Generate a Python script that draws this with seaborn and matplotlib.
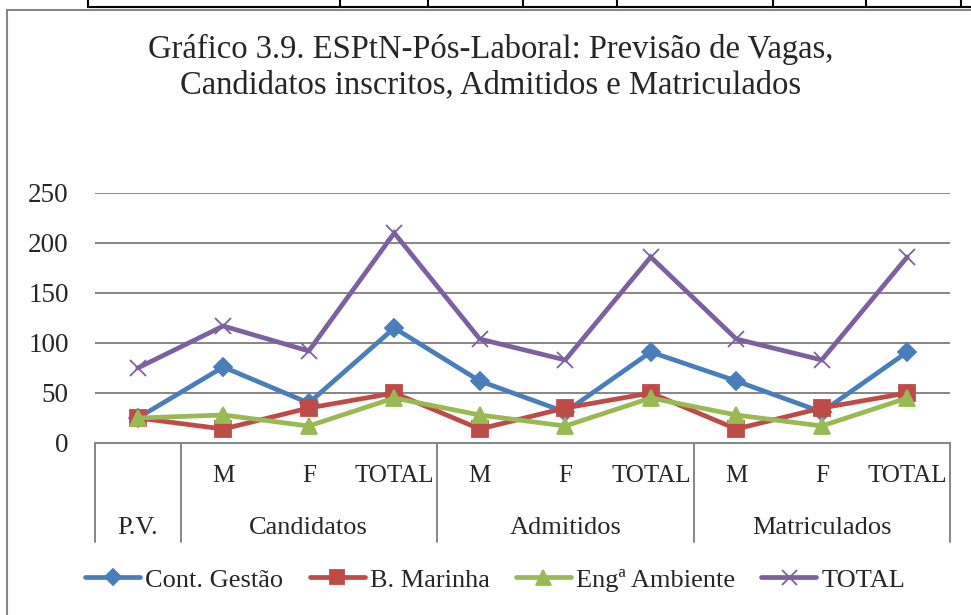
import numpy as np
import pandas as pd
import matplotlib
matplotlib.use("Agg")
import matplotlib.pyplot as plt
import matplotlib.transforms as mtransforms
from matplotlib.lines import Line2D
from matplotlib.patches import Rectangle
import seaborn as sns

# %% data
sub_labels = ["", "M", "F", "TOTAL", "M", "F", "TOTAL", "M", "F", "TOTAL"]
group_labels = ["P.V.", "Candidatos", "Admitidos", "Matriculados"]
group_centers = [0, 2, 5, 8]
group_edges = [-0.5, 0.5, 3.5, 6.5, 9.5]

series_names = ["Cont. Gestão", "B. Marinha", "Engª Ambiente", "TOTAL"]
cont_gestao = [25, 76, 40, 115, 62, 31, 91, 62, 31, 91]
b_marinha = [25, 14, 35, 50, 14, 35, 50, 14, 35, 50]
eng_ambiente = [25, 28, 17, 45, 28, 17, 45, 28, 17, 45]
total = [75, 117, 92, 210, 104, 83, 186, 104, 83, 186]

colors = ["#4A7EBB", "#BE4B48", "#98B954", "#7D60A0"]
markers = ["D", "s", "^", "x"]
msizes = [9, 11.5, 12, 12]

df = pd.DataFrame({
    "pos": list(range(10)) * 4,
    "valor": cont_gestao + b_marinha + eng_ambiente + total,
    "serie": np.repeat(series_names, 10),
})

# %% plot
sns.set_style("white")
plt.rcParams["font.family"] = ["Liberation Serif", "DejaVu Serif"]

fig = plt.figure(figsize=(9.71, 6.15), dpi=100)
ax = fig.add_axes([95 / 971, 172 / 615, 855 / 971, 250 / 615])

sns.lineplot(data=df, x="pos", y="valor", hue="serie",
             hue_order=series_names, palette=colors,
             sort=False, lw=3.4, legend=False, ax=ax)

# per-series markers (filled and line markers mixed, so set them here)
for ln, m, ms, c in zip(ax.lines, markers, msizes, colors):
    ln.set_marker(m)
    ln.set_markersize(ms)
    ln.set_markeredgecolor(c)
    ln.set_markerfacecolor(c)
    ln.set_markeredgewidth(1.3)
    ln.set_solid_joinstyle("miter")

ax.set_xlim(-0.5, 9.5)
ax.set_ylim(0, 250)
ax.set_yticks(range(0, 251, 50))
ax.yaxis.grid(True, color="#868686", lw=1.4)
ax.set_axisbelow(True)
for s in ["top", "right", "left"]:
    ax.spines[s].set_visible(False)
ax.spines["bottom"].set_color("#868686")
ax.spines["bottom"].set_linewidth(1.4)
ax.tick_params(axis="y", length=0, pad=19, labelsize=19.5)
ax.set_xticks(range(10))
ax.set_xticklabels(sub_labels)
ax.tick_params(axis="x", length=0, pad=16, labelsize=18)
ax.set_xlabel("")
ax.set_ylabel("")

trans = mtransforms.blended_transform_factory(ax.transData, ax.transAxes)
for xe in group_edges:
    ax.plot([xe, xe], [0, -0.396], color="#868686", lw=1.4,
            transform=trans, clip_on=False)
for xc, lab in zip(group_centers, group_labels):
    ax.text(xc, -0.34, lab, transform=trans, ha="center", va="center",
            fontsize=19)

fig.text(0.505, 0.891, "Gráfico 3.9. ESPtN-Pós-Laboral: Previsão de Vagas,\n"
         "Candidatos inscritos, Admitidos e Matriculados",
         ha="center", va="center", fontsize=23.5, linespacing=1.17)

handles = [Line2D([], [], color=c, marker=m, lw=3.4, ms=ms * 0.9,
                  markeredgecolor=c, mew=1.3)
           for c, m, ms in zip(colors, markers, msizes)]
fig.legend(handles, series_names, loc="center", ncol=4,
           bbox_to_anchor=(0.51, 0.057), frameon=False, fontsize=19,
           handlelength=2.08, handletextpad=0.19, columnspacing=1.0)

# chart border and the table edge above it
fig.add_artist(Rectangle((7 / 971, -0.05), 1.1, (615 - 10) / 615 + 0.05,
                         transform=fig.transFigure, fill=False,
                         ec="#868686", lw=1.5))
fig.add_artist(Line2D([88 / 971, 1], [1 - 7 / 615, 1 - 7 / 615],
                      transform=fig.transFigure, color="black", lw=1.5))
for xv in [88, 340, 428, 523, 617, 773, 866, 961]:
    fig.add_artist(Line2D([xv / 971, xv / 971], [1 - 7 / 615, 1],
                          transform=fig.transFigure, color="black", lw=1.5))

fig.savefig("out.png", dpi=100)
